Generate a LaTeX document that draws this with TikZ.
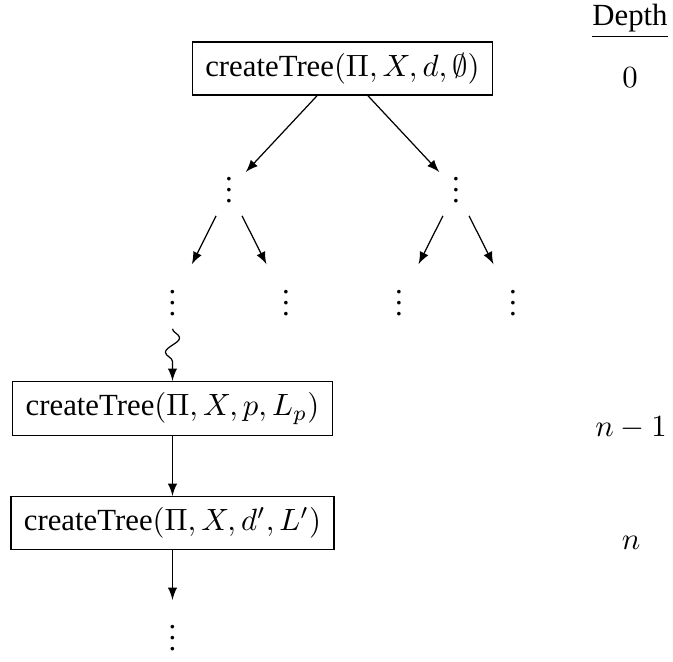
\documentclass[tikz,border=0pt]{standalone}
\usepackage[no-math]{fontspec}
\setmainfont{Liberation Serif}
\usetikzlibrary{arrows,decorations.pathmorphing}
\newcommand{\mydots}{\vbox{\baselineskip3.6pt\lineskiplimit0pt\hbox{.}\hbox{.}\hbox{.}}}
\begin{document}
\begin{tikzpicture}[x=0.325pt,y=-0.325pt,
  call/.style={draw, line width=0.4pt, inner xsep=4.2pt, inner ysep=3.6pt},
  dotsnode/.style={inner sep=4pt},
  arr/.style={-latex, line width=0.4pt},
  lowarr/.style={arr, shorten >=4.7pt},
  wavy/.style={arr, decorate, decoration={snake, amplitude=2.3pt, segment length=9.4pt, post length=3pt}}]
\useasboundingbox (0,0) rectangle (673,662);
\node[call] (root) at (342.5,68.5) {createTree$(\Pi, X, d, \emptyset)$};
\node[dotsnode] (l1) at (229,190) {\mydots};
\node[dotsnode] (r1) at (456,190) {\mydots};
\node[dotsnode] (ll) at (172.5,303) {\mydots};
\node[dotsnode] (lr) at (286,303) {\mydots};
\node[dotsnode] (rl) at (399,303) {\mydots};
\node[dotsnode] (rr) at (513,303) {\mydots};
\node[call] (p) at (172.5,408.5) {createTree$(\Pi, X, p, L_p)$};
\node[call] (dp) at (172.5,523) {createTree$(\Pi, X, d', L')$};
\node[dotsnode] (bot) at (172.5,638) {\mydots};
\draw[arr] (root) -- (l1);
\draw[arr] (root) -- (r1);
\draw[lowarr] (l1) -- (ll);
\draw[lowarr] (l1) -- (lr);
\draw[lowarr] (r1) -- (rl);
\draw[lowarr] (r1) -- (rr);
\draw[wavy] (ll) -- (p);
\draw[arr] (p) -- (dp);
\draw[arr, shorten >=4pt] (dp) -- (bot);
\node[anchor=base] (depth) at (630,26) {\underline{Depth}};
\node (d0) at (630,78) {$0$};
\node[anchor=base] (dn1) at (631,437) {$n-1$};
\node[anchor=base] (dn) at (631,550) {$n$};
\end{tikzpicture}
\end{document}
